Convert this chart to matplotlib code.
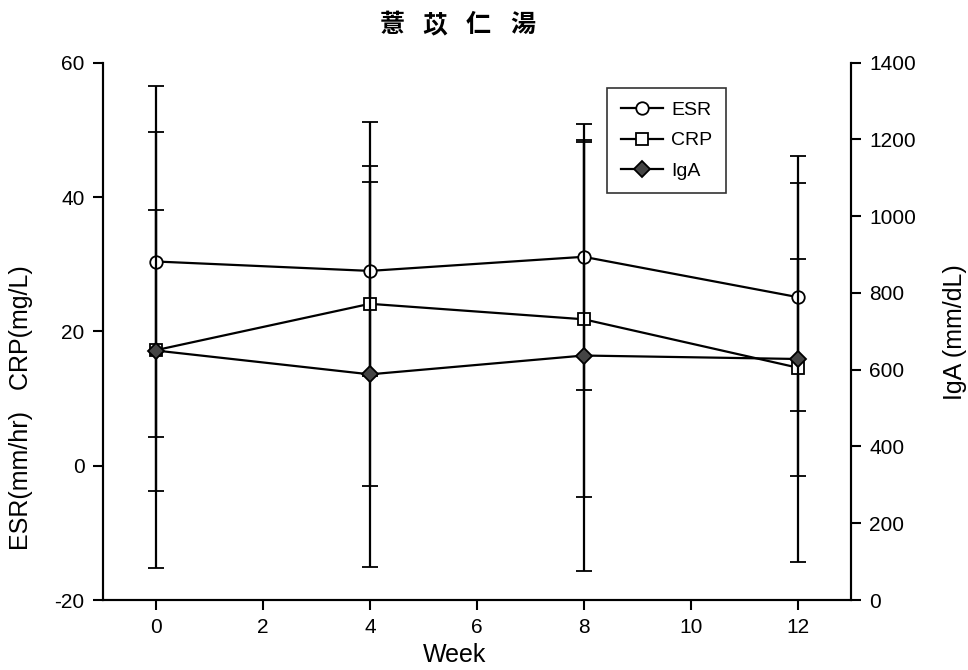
import matplotlib
matplotlib.use("Agg")
import matplotlib.pyplot as plt
from matplotlib.lines import Line2D

weeks = [0, 4, 8, 12]
esr = [30.4, 29.0, 31.1, 25.1]
esr_err = [26.1, 15.6, 19.8, 17.0]
crp = [17.2, 24.1, 21.8, 14.6]
crp_err = [32.5, 27.1, 26.4, 16.2]
iga = [650, 588, 637, 628]
iga_err = [366, 501, 561, 528]

title_chars = ["薏", "苡", "仁", "湯"]
xticks = [0, 2, 4, 6, 8, 10, 12]
left_ticks = [-20, 0, 20, 40, 60]
right_ticks = [0, 200, 400, 600, 800, 1000, 1200, 1400]

plt.rcParams['font.family'] = ['Liberation Sans', 'DejaVu Sans']
plt.rcParams['axes.unicode_minus'] = False

W, H = 968, 670
x0, x1, y0, y1 = 102.5, 851, 62.7, 600
fig = plt.figure(figsize=(9.68, 6.7), dpi=100)
ax = fig.add_axes([x0 / W, 1 - y1 / H, (x1 - x0) / W, (y1 - y0) / H])
ax2 = ax.twinx()

lw = 1.6
cap = 6
ax.errorbar(weeks, esr, yerr=esr_err, color='black', lw=lw, elinewidth=lw,
            capsize=cap, capthick=lw, marker='o', ms=9, mfc='white', mec='black',
            mew=1.3, zorder=3)
ax.errorbar(weeks, crp, yerr=crp_err, color='black', lw=lw, elinewidth=lw,
            capsize=cap, capthick=lw, marker='s', ms=9, mfc='white', mec='black',
            mew=1.3, zorder=3)
ax2.errorbar(weeks, iga, yerr=iga_err, color='black', lw=lw, elinewidth=lw,
             capsize=cap, capthick=lw, marker='D', ms=8, mfc='#444444', mec='black',
             mew=1.3, zorder=3)

ax.set_xlim(-1, 13)
ax.set_ylim(-20, 60)
ax2.set_ylim(0, 1400)
ax.set_xticks(xticks)
ax.set_yticks(left_ticks)
ax2.set_yticks(right_ticks)

for a in (ax, ax2):
    a.spines['top'].set_visible(False)
    for s in a.spines.values():
        s.set_linewidth(1.5)
    a.tick_params(direction='out', length=7, width=1.5, labelsize=15, pad=6)

ax.set_xlabel("Week", fontsize=18)
ax.xaxis.set_label_coords((455 - x0) / (x1 - x0), -(643 - y1) / (y1 - y0))
ax.set_ylabel("ESR(mm/hr)   CRP(mg/L)", fontsize=18)
ax.yaxis.set_label_coords(-(x0 - 33) / (x1 - x0), (y1 - 408) / (y1 - y0))
ax2.set_ylabel("IgA (mm/dL)", fontsize=18)
ax2.yaxis.set_label_coords(1 + (943 - x1) / (x1 - x0), (y1 - 332) / (y1 - y0))

for cx, ch in zip([392, 435, 478, 523], title_chars):
    fig.text(cx / W, 1 - 25 / H, ch, ha='center', va='center',
             fontsize=18, fontweight='bold', family=['Noto Sans CJK TC', 'DejaVu Sans'])

handles = [
    Line2D([], [], color='black', lw=lw, marker='o', ms=9, mfc='white', mec='black', mew=1.3),
    Line2D([], [], color='black', lw=lw, marker='s', ms=9, mfc='white', mec='black', mew=1.3),
    Line2D([], [], color='black', lw=lw, marker='D', ms=8, mfc='#444444', mec='black', mew=1.3),
]
leg = ax.legend(handles, ["ESR", "CRP", "IgA"], loc='upper left',
                bbox_to_anchor=((607 - x0) / (x1 - x0), (y1 - 88) / (y1 - y0)),
                borderaxespad=0, fontsize=14, frameon=True, fancybox=False,
                edgecolor='black', handlelength=2.2, handletextpad=0.4,
                borderpad=0.7, labelspacing=0.65)
leg.get_frame().set_linewidth(1.2)

fig.savefig("out.png", dpi=100)
